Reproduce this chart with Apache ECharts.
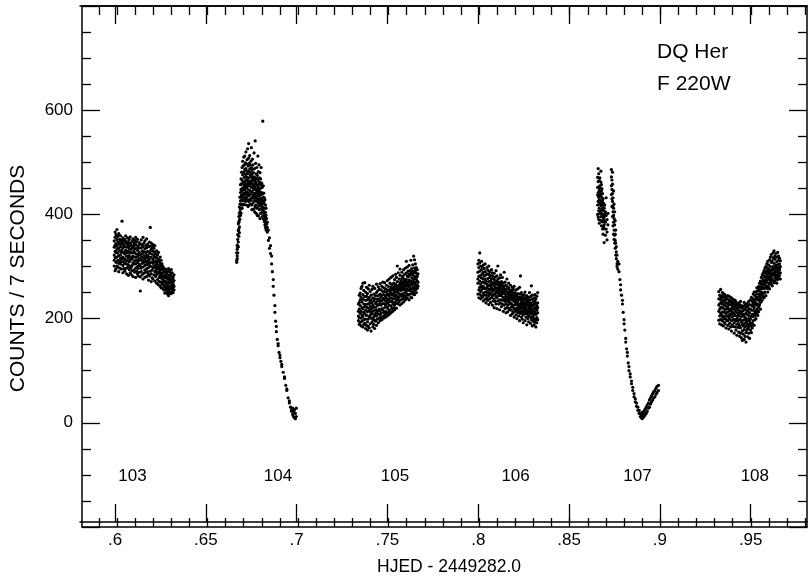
<!DOCTYPE html>
<html>
<head>
<meta charset="utf-8">
<script src="https://cdn.jsdelivr.net/npm/echarts@6/dist/echarts.min.js"></script>
<style>
html, body { margin: 0; padding: 0; background: #fff; }
#chart { width: 808px; height: 581px; }
</style>
</head>
<body>
<div id="chart"></div>
<script>
// each row: [HJED - 2449282.0, counts, counts, ...]
var orbit103 = [
    [0.5985, 301, 337, 322, 349, 312],
    [0.5990, 292, 356, 329, 341, 317, 366],
    [0.5995, 308, 344, 327, 361, 296],
    [0.6000, 318, 333, 371, 301, 352, 339],
    [0.6005, 299, 347, 326, 312, 358],
    [0.6010, 335, 306, 343, 363, 321, 290],
    [0.6015, 311, 330, 352, 297, 344],
    [0.6020, 322, 338, 305, 359, 316, 348],
    [0.6025, 295, 343, 327, 351, 309],
    [0.6028, 387, 332, 314],
    [0.6033, 302, 318, 346, 336, 355, 288],
    [0.6038, 327, 309, 341, 296, 350],
    [0.6043, 315, 338, 291, 352, 324, 306],
    [0.6048, 296, 331, 345, 312, 359],
    [0.6053, 320, 305, 337, 286, 348, 328],
    [0.6058, 311, 343, 298, 326, 355],
    [0.6063, 283, 316, 339, 303, 347, 330],
    [0.6068, 309, 294, 335, 321, 352],
    [0.6073, 327, 288, 344, 312, 300, 357],
    [0.6078, 298, 333, 317, 341, 285],
    [0.6083, 314, 302, 348, 326, 338, 292],
    [0.6088, 281, 320, 336, 307, 353],
    [0.6093, 305, 329, 293, 345, 318, 340],
    [0.6098, 326, 289, 311, 350, 334],
    [0.6103, 297, 318, 342, 305, 279, 356],
    [0.6108, 313, 336, 291, 324, 347],
    [0.6113, 286, 308, 331, 352, 319, 300],
    [0.6118, 323, 296, 340, 311, 282],
    [0.6123, 304, 327, 289, 346, 315, 335],
    [0.6129, 253, 301, 322, 343, 280],
    [0.6134, 312, 290, 336, 318, 351, 297],
    [0.6139, 284, 325, 306, 342, 330],
    [0.6144, 299, 317, 276, 338, 356, 311],
    [0.6149, 321, 287, 308, 345, 328],
    [0.6154, 293, 334, 315, 279, 302, 349],
    [0.6159, 310, 327, 289, 340, 318],
    [0.6164, 281, 304, 336, 322, 296, 353],
    [0.6169, 316, 290, 329, 307, 343],
    [0.6174, 298, 274, 319, 338, 311, 285],
    [0.6179, 325, 302, 282, 347, 314],
    [0.6184, 375, 307, 329, 291, 339],
    [0.6189, 286, 318, 300, 333, 271, 345],
    [0.6194, 309, 293, 324, 278, 338],
    [0.6199, 276, 314, 298, 330, 306, 342],
    [0.6204, 301, 284, 321, 309, 335],
    [0.6209, 290, 318, 272, 327, 298, 340],
    [0.6214, 311, 281, 303, 324, 292],
    [0.6219, 268, 296, 317, 285, 330, 307],
    [0.6224, 289, 309, 275, 322, 300],
    [0.6229, 302, 265, 314, 287, 327, 295],
    [0.6234, 279, 298, 271, 310, 290],
    [0.6239, 294, 262, 306, 283, 318],
    [0.6244, 270, 288, 301, 259, 312, 279],
    [0.6249, 286, 266, 297, 276, 305],
    [0.6254, 258, 281, 293, 270, 300],
    [0.6259, 273, 289, 255, 282, 296, 264],
    [0.6264, 262, 278, 249, 290, 270],
    [0.6269, 284, 256, 271, 295, 263],
    [0.6274, 251, 268, 280, 259, 287],
    [0.6279, 265, 247, 276, 291, 257],
    [0.6285, 244, 261, 272, 283, 253, 296],
    [0.6290, 256, 268, 249, 278, 290],
    [0.6295, 262, 251, 274, 286, 258],
    [0.6300, 248, 270, 259, 282, 294],
    [0.6305, 257, 265, 276, 252, 288],
    [0.6310, 266, 250, 279, 260, 271],
    [0.6315, 255, 273, 262, 284]
];

var orbit104 = [
    [0.6661, 312, 326, 308],
    [0.6664, 320, 341, 315, 333],
    [0.6667, 337, 352, 326, 361],
    [0.6670, 347, 369, 338, 382],
    [0.6673, 358, 385, 372, 396],
    [0.6676, 376, 402, 389, 414, 365],
    [0.6679, 391, 420, 405, 433],
    [0.6682, 410, 398, 442, 426, 457],
    [0.6685, 419, 448, 433, 468, 402],
    [0.6688, 437, 412, 459, 481, 426],
    [0.6691, 428, 466, 445, 490, 412],
    [0.6694, 451, 420, 476, 437, 502],
    [0.6697, 433, 462, 493, 448, 418],
    [0.6700, 458, 427, 481, 510, 441],
    [0.6703, 440, 471, 419, 495, 455],
    [0.6706, 463, 432, 512, 486, 447],
    [0.6709, 425, 477, 450, 499, 438],
    [0.6712, 455, 430, 488, 466, 520],
    [0.6715, 443, 497, 418, 472, 458],
    [0.6718, 466, 434, 505, 451, 483],
    [0.6721, 428, 478, 456, 526, 441],
    [0.6724, 461, 440, 493, 470, 415],
    [0.6727, 447, 508, 425, 482, 463, 536],
    [0.6730, 470, 436, 455, 498, 418],
    [0.6733, 429, 487, 462, 446, 513],
    [0.6736, 458, 420, 476, 439, 495],
    [0.6739, 441, 502, 464, 427, 481],
    [0.6742, 473, 431, 452, 490, 528],
    [0.6745, 418, 460, 444, 477, 409],
    [0.6748, 452, 486, 433, 468, 506],
    [0.6751, 437, 470, 422, 495, 456],
    [0.6754, 465, 410, 448, 480, 431],
    [0.6757, 426, 458, 518, 441, 472],
    [0.6760, 453, 405, 488, 436, 466],
    [0.6763, 541, 432, 470, 449, 415],
    [0.6766, 418, 462, 440, 498, 426],
    [0.6769, 447, 402, 478, 431, 458],
    [0.6772, 425, 469, 443, 490, 412],
    [0.6775, 456, 435, 398, 475, 447],
    [0.6778, 413, 452, 512, 430, 466],
    [0.6781, 440, 421, 482, 457, 397],
    [0.6784, 462, 428, 446, 495, 417],
    [0.6787, 409, 451, 436, 470, 426],
    [0.6790, 443, 392, 461, 422, 480],
    [0.6793, 418, 450, 431, 402, 468],
    [0.6796, 438, 411, 457, 427, 490],
    [0.6799, 403, 442, 425, 460],
    [0.6802, 430, 396, 452, 415],
    [0.6805, 579, 421, 407, 440],
    [0.6808, 412, 433, 391, 455],
    [0.6811, 398, 425, 410, 441],
    [0.6814, 420, 386, 432, 403],
    [0.6817, 395, 412, 380, 428],
    [0.6820, 404, 375, 418, 390],
    [0.6823, 383, 398, 370, 412],
    [0.6826, 372, 392, 381],
    [0.6830, 366, 385, 375],
    [0.6836, 350, 370],
    [0.6842, 335, 355],
    [0.6848, 325, 340],
    [0.6854, 305, 320],
    [0.6858, 290],
    [0.6863, 262, 275],
    [0.6867, 245],
    [0.6872, 212, 225],
    [0.6876, 195],
    [0.6880, 175, 185],
    [0.6885, 160],
    [0.6890, 148, 152],
    [0.6895, 135],
    [0.6900, 125, 130],
    [0.6905, 118],
    [0.6910, 108, 112],
    [0.6918, 97],
    [0.6925, 85, 88],
    [0.6932, 72],
    [0.6938, 62, 65],
    [0.6945, 48],
    [0.6952, 38, 42],
    [0.6958, 30],
    [0.6964, 22, 25],
    [0.6970, 16, 28],
    [0.6975, 12, 22],
    [0.6980, 10, 25],
    [0.6985, 8, 18],
    [0.6990, 12, 28]
];

var orbit105 = [
    [0.7333, 214, 196, 228, 205],
    [0.7338, 202, 231, 189, 218, 245],
    [0.7343, 225, 193, 249, 210, 236],
    [0.7348, 186, 214, 241, 201, 258],
    [0.7353, 207, 232, 195, 262, 221],
    [0.7358, 219, 184, 246, 204, 237, 268],
    [0.7363, 198, 228, 212, 254, 189],
    [0.7368, 269, 223, 191, 242, 209],
    [0.7373, 181, 216, 235, 199, 251, 227],
    [0.7378, 206, 243, 187, 222, 260],
    [0.7383, 228, 194, 213, 248, 178, 236],
    [0.7388, 199, 238, 220, 185, 257],
    [0.7393, 215, 182, 241, 204, 229, 264],
    [0.7398, 190, 224, 207, 252, 233],
    [0.7403, 236, 201, 176, 218, 245, 212],
    [0.7408, 209, 193, 230, 256, 221],
    [0.7413, 184, 226, 214, 240, 198, 262],
    [0.7418, 222, 203, 247, 189, 234],
    [0.7423, 197, 238, 216, 258, 207, 181],
    [0.7428, 229, 210, 195, 244, 222],
    [0.7433, 205, 250, 187, 232, 217, 266],
    [0.7438, 238, 214, 199, 253, 226],
    [0.7443, 192, 226, 244, 209, 261, 235],
    [0.7448, 218, 201, 237, 256, 228],
    [0.7453, 233, 196, 247, 215, 267, 207],
    [0.7458, 210, 241, 226, 202, 255],
    [0.7463, 245, 219, 234, 198, 262, 228],
    [0.7468, 204, 237, 252, 216, 270],
    [0.7473, 229, 212, 246, 201, 238, 259],
    [0.7478, 269, 221, 240, 207, 252],
    [0.7483, 214, 234, 257, 226, 244, 203],
    [0.7488, 239, 210, 251, 229, 264],
    [0.7493, 222, 247, 205, 236, 273, 255],
    [0.7498, 245, 218, 262, 231, 212],
    [0.7503, 208, 238, 253, 226, 276, 244],
    [0.7508, 233, 256, 215, 248, 268],
    [0.7513, 250, 224, 240, 279, 211, 260],
    [0.7518, 219, 246, 233, 265, 255],
    [0.7523, 238, 214, 259, 228, 282, 247],
    [0.7528, 255, 231, 244, 268, 221],
    [0.7533, 226, 251, 239, 275, 262, 217],
    [0.7538, 246, 266, 230, 257, 285],
    [0.7543, 235, 220, 252, 279, 244, 263],
    [0.7548, 301, 258, 241, 271, 229],
    [0.7553, 249, 228, 262, 288, 254, 238],
    [0.7558, 265, 242, 233, 276, 256],
    [0.7563, 226, 258, 247, 283, 269, 295],
    [0.7568, 254, 236, 272, 245, 263],
    [0.7573, 243, 266, 229, 289, 257, 277],
    [0.7578, 260, 248, 238, 281, 270],
    [0.7583, 232, 271, 255, 294, 245, 264],
    [0.7588, 267, 241, 285, 258, 276],
    [0.7593, 250, 262, 236, 297, 272, 243],
    [0.7598, 275, 253, 288, 264, 310],
    [0.7603, 239, 268, 257, 282, 247, 299],
    [0.7608, 262, 280, 245, 291, 270],
    [0.7613, 254, 236, 274, 265, 302, 285],
    [0.7618, 283, 259, 247, 292, 270],
    [0.7623, 241, 272, 288, 255, 312, 264],
    [0.7628, 266, 251, 296, 278, 240],
    [0.7633, 258, 284, 247, 303, 270, 291],
    [0.7638, 320, 275, 261, 288, 252],
    [0.7643, 313, 246, 281, 266, 297, 258],
    [0.7648, 270, 255, 292, 279, 305],
    [0.7653, 262, 287, 250, 276, 298],
    [0.7658, 281, 265, 294, 258, 272],
    [0.7662, 270, 286, 262]
];

var orbit106 = [
    [0.7993, 268, 289, 247, 305, 276],
    [0.7998, 255, 281, 298, 240, 312],
    [0.8003, 326, 272, 260, 291, 247, 307],
    [0.8008, 283, 252, 301, 266, 238],
    [0.8013, 262, 294, 244, 278, 310, 255],
    [0.8018, 241, 286, 270, 299, 258],
    [0.8023, 276, 249, 262, 303, 234, 289],
    [0.8028, 258, 282, 245, 296, 270],
    [0.8033, 237, 268, 290, 251, 305, 276],
    [0.8038, 272, 245, 258, 284, 230],
    [0.8043, 252, 286, 266, 240, 298, 260],
    [0.8048, 263, 235, 277, 293, 249],
    [0.8053, 244, 271, 256, 285, 227, 301],
    [0.8058, 279, 250, 265, 238, 290],
    [0.8063, 231, 262, 283, 247, 272, 256],
    [0.8068, 258, 240, 276, 294, 266],
    [0.8073, 269, 226, 252, 282, 244, 288],
    [0.8078, 246, 264, 234, 278, 257],
    [0.8083, 255, 238, 287, 267, 221, 275],
    [0.8088, 233, 261, 248, 280, 270],
    [0.8093, 266, 243, 228, 258, 292, 251],
    [0.8098, 240, 272, 255, 219, 282],
    [0.8103, 301, 249, 234, 266, 258, 276],
    [0.8108, 228, 253, 270, 244, 263],
    [0.8113, 259, 236, 278, 217, 248, 268],
    [0.8118, 245, 266, 230, 256, 284],
    [0.8123, 236, 252, 271, 223, 262, 244],
    [0.8128, 263, 228, 248, 279, 255],
    [0.8133, 214, 241, 258, 235, 268, 249],
    [0.8138, 289, 252, 226, 262, 240],
    [0.8143, 233, 247, 270, 219, 256, 238],
    [0.8148, 255, 228, 243, 264, 211],
    [0.8153, 240, 262, 221, 251, 276, 234],
    [0.8158, 226, 247, 258, 213, 238],
    [0.8163, 250, 232, 268, 242, 220, 259],
    [0.8168, 217, 243, 228, 255, 236],
    [0.8173, 238, 206, 251, 230, 264, 246],
    [0.8178, 229, 254, 216, 241, 222],
    [0.8183, 245, 226, 260, 209, 236, 251],
    [0.8188, 212, 238, 248, 224, 256],
    [0.8193, 233, 219, 244, 203, 262, 240],
    [0.8198, 250, 227, 214, 236, 246],
    [0.8203, 207, 241, 228, 255, 219, 234],
    [0.8208, 231, 216, 244, 200, 238],
    [0.8213, 222, 248, 234, 211, 257, 227],
    [0.8218, 241, 205, 228, 218, 236],
    [0.8223, 214, 237, 247, 196, 225, 260],
    [0.8228, 282, 229, 210, 241, 220],
    [0.8233, 203, 224, 236, 215, 250, 231],
    [0.8238, 238, 212, 199, 228, 245],
    [0.8243, 219, 241, 207, 232, 192, 226],
    [0.8248, 230, 214, 246, 222, 237],
    [0.8253, 196, 225, 210, 238, 218, 251],
    [0.8258, 221, 241, 203, 231, 212],
    [0.8263, 209, 188, 228, 217, 244, 235],
    [0.8268, 234, 213, 200, 226, 240],
    [0.8273, 205, 222, 241, 194, 231, 216],
    [0.8278, 226, 210, 236, 219, 250],
    [0.8283, 191, 215, 230, 203, 242, 222],
    [0.8288, 263, 219, 198, 227, 209],
    [0.8293, 212, 237, 186, 224, 203, 245],
    [0.8298, 225, 205, 232, 214, 195],
    [0.8303, 200, 218, 240, 209, 228, 188],
    [0.8308, 221, 193, 234, 212, 246],
    [0.8313, 208, 229, 197, 219, 238, 184],
    [0.8318, 216, 202, 243, 225, 192],
    [0.8323, 250, 211, 230, 198, 221]
];

var orbit107 = [
    [0.8654, 418, 452, 437, 471, 400],
    [0.8657, 442, 395, 463, 425, 488],
    [0.8660, 407, 433, 478, 390, 452],
    [0.8663, 428, 465, 412, 446, 383],
    [0.8666, 455, 402, 438, 421, 470],
    [0.8669, 389, 427, 451, 405, 440],
    [0.8672, 417, 462, 396, 435, 483],
    [0.8675, 445, 378, 423, 408, 457],
    [0.8678, 401, 432, 386, 449, 418],
    [0.8681, 426, 372, 411, 440, 395],
    [0.8684, 386, 413, 430, 399, 362],
    [0.8687, 407, 376, 421, 391],
    [0.8690, 346, 395, 412, 380],
    [0.8693, 372, 401, 387, 418],
    [0.8697, 385, 360, 405],
    [0.8701, 398, 372, 432],
    [0.8706, 366, 390, 351],
    [0.8711, 380, 402],
    [0.8730, 438, 472, 486, 455],
    [0.8733, 415, 448, 466, 430],
    [0.8736, 396, 425, 458, 440, 481],
    [0.8739, 405, 378, 432, 417],
    [0.8742, 385, 412, 362, 398, 445],
    [0.8745, 370, 392, 352, 420],
    [0.8748, 345, 380, 360, 405],
    [0.8751, 335, 362, 350, 388],
    [0.8754, 322, 345, 370],
    [0.8757, 315, 338, 328],
    [0.8761, 305, 322, 300],
    [0.8765, 295, 310],
    [0.8772, 290, 305],
    [0.8777, 275],
    [0.8781, 255, 265],
    [0.8786, 245],
    [0.8791, 228, 235],
    [0.8795, 212],
    [0.8800, 190, 198],
    [0.8804, 178],
    [0.8809, 155, 162],
    [0.8814, 142],
    [0.8818, 128, 135],
    [0.8823, 115],
    [0.8827, 100, 108],
    [0.8834, 88, 94],
    [0.8841, 75, 80],
    [0.8848, 62, 68],
    [0.8855, 50, 56],
    [0.8862, 40, 46],
    [0.8869, 32, 38],
    [0.8876, 24, 30],
    [0.8883, 18, 24],
    [0.8890, 12, 18],
    [0.8895, 10, 16],
    [0.8900, 8, 14, 20],
    [0.8905, 10, 18],
    [0.8910, 12, 22],
    [0.8916, 15, 26],
    [0.8922, 18, 30],
    [0.8928, 22, 34],
    [0.8934, 28, 38],
    [0.8940, 30, 44],
    [0.8946, 36, 48],
    [0.8952, 40, 52],
    [0.8958, 44, 56],
    [0.8964, 48, 60],
    [0.8970, 50, 62],
    [0.8976, 55, 66],
    [0.8982, 58, 70],
    [0.8990, 62, 72]
];

var orbit108 = [
    [0.9323, 214, 238, 197, 252, 226],
    [0.9328, 229, 205, 245, 218, 190],
    [0.9333, 198, 236, 221, 256, 210, 243],
    [0.9338, 222, 188, 240, 207, 231],
    [0.9343, 244, 213, 196, 228, 250, 203],
    [0.9348, 205, 234, 220, 186, 241],
    [0.9353, 226, 193, 247, 212, 236, 200],
    [0.9358, 190, 217, 231, 204, 245],
    [0.9363, 237, 209, 182, 224, 199, 242],
    [0.9368, 212, 229, 196, 238, 219],
    [0.9373, 187, 221, 244, 205, 230, 196],
    [0.9378, 226, 203, 214, 180, 236],
    [0.9383, 199, 233, 218, 191, 242, 208],
    [0.9388, 215, 184, 227, 205, 235],
    [0.9393, 230, 196, 176, 219, 209, 240],
    [0.9398, 203, 224, 188, 232, 213],
    [0.9403, 185, 210, 228, 198, 237, 219],
    [0.9408, 221, 192, 207, 172, 230],
    [0.9413, 198, 216, 235, 184, 206, 225],
    [0.9418, 212, 178, 226, 196, 232],
    [0.9423, 189, 220, 205, 168, 228, 200],
    [0.9428, 226, 183, 211, 195, 217],
    [0.9433, 174, 205, 223, 190, 230, 209],
    [0.9438, 199, 215, 166, 227, 186],
    [0.9443, 210, 182, 198, 221, 172, 233],
    [0.9448, 163, 193, 214, 204, 225],
    [0.9453, 188, 220, 176, 209, 196, 158],
    [0.9458, 205, 170, 224, 186, 215],
    [0.9463, 179, 198, 160, 231, 208, 190],
    [0.9468, 218, 184, 203, 166, 226],
    [0.9473, 173, 210, 193, 222, 155, 200],
    [0.9478, 196, 178, 215, 187, 229],
    [0.9483, 207, 165, 224, 190, 181, 214],
    [0.9488, 183, 200, 172, 219, 233],
    [0.9493, 162, 211, 195, 227, 188, 205],
    [0.9498, 199, 178, 218, 236, 191],
    [0.9503, 216, 186, 204, 173, 226, 241],
    [0.9508, 191, 224, 208, 233, 182],
    [0.9513, 204, 196, 238, 216, 247, 228],
    [0.9518, 221, 187, 230, 209, 251],
    [0.9523, 198, 235, 214, 244, 226, 206],
    [0.9528, 230, 212, 252, 200, 239],
    [0.9533, 209, 241, 226, 259, 218, 247],
    [0.9538, 237, 215, 253, 228, 206],
    [0.9543, 222, 247, 262, 235, 213, 255],
    [0.9548, 243, 226, 259, 268, 236],
    [0.9553, 218, 252, 240, 272, 231, 261],
    [0.9558, 248, 266, 233, 257, 279],
    [0.9563, 236, 261, 284, 250, 245, 270],
    [0.9568, 258, 242, 275, 265, 288],
    [0.9573, 249, 270, 258, 292, 281, 240],
    [0.9578, 266, 251, 287, 274, 297],
    [0.9583, 244, 279, 262, 300, 270, 289],
    [0.9588, 273, 258, 292, 284, 305],
    [0.9593, 262, 286, 251, 297, 276, 310],
    [0.9598, 280, 268, 303, 290, 260],
    [0.9603, 257, 294, 275, 313, 285, 266],
    [0.9608, 287, 270, 300, 279, 318],
    [0.9613, 266, 292, 308, 281, 323, 274],
    [0.9618, 295, 276, 311, 286, 263],
    [0.9623, 272, 300, 287, 326, 293, 317],
    [0.9628, 283, 269, 306, 295, 330],
    [0.9633, 297, 278, 314, 288, 272, 320],
    [0.9638, 276, 302, 291, 325, 283],
    [0.9643, 290, 268, 309, 298, 318, 280],
    [0.9648, 303, 285, 327, 294, 275],
    [0.9653, 279, 297, 312, 289, 320],
    [0.9658, 294, 283, 305, 316, 298],
    [0.9663, 288, 300, 276, 311]
];

var orbitNames = ['103', '104', '105', '106', '107', '108'];
var orbitLabelX = [0.6086, 0.6889, 0.7535, 0.8201, 0.8874, 0.9522];
var orbitLabelY = -102;

var xMinorTicks = [0.59, 0.60, 0.61, 0.62, 0.63, 0.64, 0.65, 0.66, 0.67, 0.68, 0.69,
                   0.70, 0.71, 0.72, 0.73, 0.74, 0.75, 0.76, 0.77, 0.78, 0.79,
                   0.80, 0.81, 0.82, 0.83, 0.84, 0.85, 0.86, 0.87, 0.88, 0.89,
                   0.90, 0.91, 0.92, 0.93, 0.94, 0.95, 0.96, 0.97, 0.98];
var xMajorTicks = [0.6, 0.65, 0.7, 0.75, 0.8, 0.85, 0.9, 0.95];
var yLabels = [0, 200, 400, 600];

var FONT = 'Liberation Sans, Arial, Helvetica, sans-serif';
var X_MIN = 0.5807, X_MAX = 0.981;

function toPoints(rows) {
    var pts = [];
    rows.forEach(function (r) {
        for (var i = 1; i < r.length; i++) pts.push([r[0], r[i]]);
    });
    return pts;
}

var allPoints = [].concat(toPoints(orbit103), toPoints(orbit104), toPoints(orbit105),
                          toPoints(orbit106), toPoints(orbit107), toPoints(orbit108));

var labelData = orbitNames.map(function (n, i) {
    return { name: n, value: [orbitLabelX[i], orbitLabelY] };
});

var line = { show: true, onZero: false, lineStyle: { color: '#000', width: 1.5 } };
var tickLine = { color: '#000', width: 1.3 };

function xAxisDef(grid, pos, ticks, len, withLabels) {
    return {
        type: 'value', gridIndex: grid, position: pos, min: X_MIN, max: X_MAX,
        axisLine: line,
        splitLine: { show: false },
        axisTick: { show: true, inside: true, length: len, customValues: ticks, lineStyle: tickLine },
        axisLabel: withLabels ? {
            show: true, customValues: ticks, margin: 10, color: '#000',
            fontSize: 17, fontFamily: FONT,
            formatter: function (v) { return String(v).replace(/^0/, ''); }
        } : { show: false }
    };
}

function yAxisDef(pos, withLabels) {
    var ax = {
        type: 'value', gridIndex: 0, position: pos, min: -200, max: 800, interval: 200,
        axisLine: line,
        splitLine: { show: false },
        axisTick: { inside: true, length: 18, lineStyle: tickLine },
        minorTick: { show: true, splitNumber: 4, length: 9, lineStyle: tickLine },
        axisLabel: { show: false }
    };
    if (withLabels) {
        ax.axisLabel = { customValues: yLabels, margin: 9, color: '#000', fontSize: 17, fontFamily: FONT };
        ax.name = 'COUNTS / 7 SECONDS';
        ax.nameLocation = 'middle';
        ax.nameGap = 53;
        ax.nameRotate = 90;
        ax.nameTextStyle = { color: '#000', fontSize: 21, fontFamily: FONT, padding: [0, 24, 0, 0] };
    }
    return ax;
}

var chart = echarts.init(document.getElementById('chart'));
chart.setOption({
    backgroundColor: '#fff',
    animation: false,
    grid: [
        { left: 80, right: 1, top: 6, bottom: 54 },
        { left: 80, right: 1, top: 6, bottom: 54 }
    ],
    xAxis: [
        xAxisDef(0, 'bottom', xMinorTicks, 9, false),
        xAxisDef(0, 'top', xMinorTicks, 9, false),
        Object.assign(xAxisDef(1, 'bottom', xMajorTicks, 18, true), {
            name: 'HJED - 2449282.0', nameLocation: 'middle', nameGap: 36,
            nameTextStyle: { color: '#000', fontSize: 17.5, fontFamily: FONT, padding: [0, 0, 0, 11] }
        }),
        xAxisDef(1, 'top', xMajorTicks, 18, false)
    ],
    yAxis: [
        yAxisDef('left', true),
        yAxisDef('right', false),
        { type: 'value', gridIndex: 1, min: -200, max: 800, show: false }
    ],
    graphic: [
        { type: 'text', left: 657, top: 42, style: { text: 'DQ Her', fill: '#000', font: '21px ' + FONT } },
        { type: 'text', left: 657, top: 74, style: { text: 'F 220W', fill: '#000', font: '21px ' + FONT } }
    ],
    series: [
        {
            type: 'scatter', xAxisIndex: 0, yAxisIndex: 0,
            symbol: 'circle', symbolSize: 3.2,
            itemStyle: { color: '#000', opacity: 1 },
            data: allPoints
        },
        {
            type: 'scatter', xAxisIndex: 0, yAxisIndex: 0,
            symbolSize: 0, silent: true,
            itemStyle: { opacity: 1 },
            label: { show: true, position: 'inside', formatter: '{b}', color: '#000',
                     fontSize: 17, fontFamily: FONT },
            data: labelData
        }
    ]
});
</script>
</body>
</html>
